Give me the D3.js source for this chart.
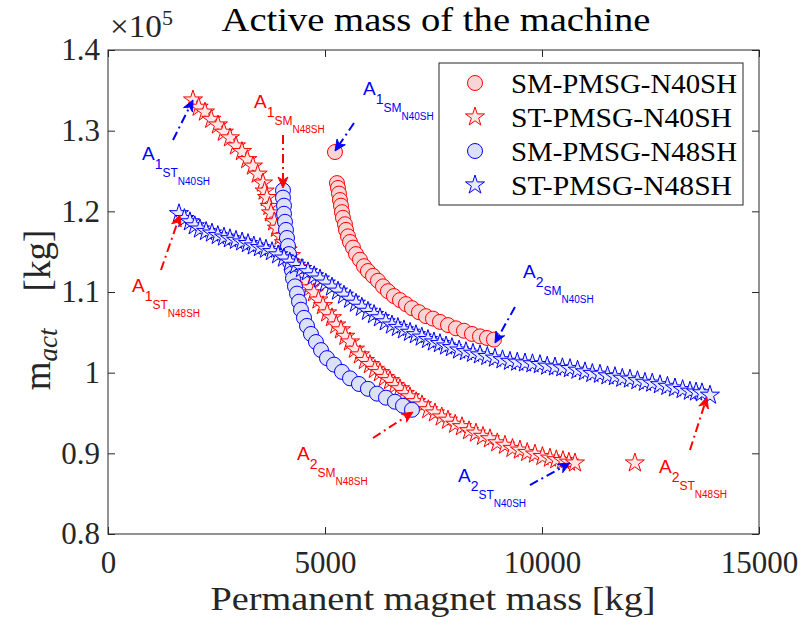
<!DOCTYPE html>
<html><head><meta charset="utf-8">
<script src="https://cdn.jsdelivr.net/npm/d3@7"></script>
<style>body{margin:0;background:#fff}svg{display:block}</style>
</head><body><svg id="c" width="802" height="629"></svg>
<script>
// ---------------- data (PM mass [kg], active mass [kg]) ----------------
const seriesNames = ["SM-PMSG-N40SH", "ST-PMSG-N40SH", "SM-PMSG-N48SH", "ST-PMSG-N48SH"];

const smN40_pm  = [5230,5276,5299,5322,5345,5368,5391,5414,5460,5484,5530,5576,5645,5714,5806,5898,5990,6106,6221,6336,6451,6589,6728,6866,7004,7165,7327,7488,7649,7834,8018,8202,8387,8571,8732,8893];
const smN40_act = [127350,123500,122900,122200,121400,120700,119900,119200,118400,117700,116900,116200,115500,114700,114000,113200,112600,112000,111400,110700,110100,109500,109000,108500,108000,107500,107000,106700,106300,105900,105500,105200,104800,104500,104300,104100];

const stN40_pm  = [1958,2090,2235,2380,2534,2670,2811,2950,3087,3210,3341,3450,3571,3610,3663,3720,3756,3830,3894,3980,4055,4140,4216,4290,4378,4470,4562,4650,4746,4850,4954,5050,5161,5260,5368,5470,5576,5690,5806,5920,6036,6150,6267,6380,6497,6610,6728,6840,6958,7100,7235,7380,7534,7690,7834,8000,8156,8320,8479,8640,8801,8970,9147,9320,9492,9660,9838,10010,10184,10330,10483,10620,10760,12140];
const stN40_act = [133800,132900,132300,131400,130700,129800,129100,128100,127400,126400,125600,124600,123500,122500,121700,120600,119800,118700,117900,116900,116100,115200,114500,113600,113000,112100,111400,110500,109900,109000,108300,107400,106800,105900,105300,104500,103800,102900,102200,101500,101000,100400,100000,99400,99000,98400,98000,97400,97000,96400,96000,95400,95000,94500,94100,93600,93300,92800,92500,92100,91800,91300,91000,90600,90400,90100,89900,89600,89400,89200,89100,88900,88800,88800];

const smN48_pm  = [4032,4032,4055,4055,4078,4101,4124,4147,4170,4193,4239,4262,4308,4355,4401,4447,4516,4585,4677,4792,4908,5046,5207,5391,5576,5783,5990,6198,6405,6612,6797,7004];
const smN48_act = [122600,121700,120700,119700,118700,117700,116700,115700,114700,113700,112700,111700,110700,109800,108800,107800,106800,105800,104800,103800,102800,101800,101000,100100,99300,98600,98000,97400,96900,96400,95900,95400];

const stN48_pm  = [1636,1760,1889,2000,2120,2260,2396,2530,2673,2810,2949,3090,3226,3360,3502,3640,3779,3920,4055,4190,4332,4470,4608,4750,4885,5020,5161,5300,5437,5580,5714,5850,5990,6130,6267,6400,6543,6680,6820,6960,7096,7230,7373,7510,7649,7790,7926,8090,8248,8410,8571,8740,8916,9090,9262,9430,9608,9780,9953,10120,10299,10470,10645,10820,10990,11160,11336,11510,11681,11850,12027,12200,12372,12540,12718,12890,13064,13240,13409,13550,13686,13870];
const stN48_act = [119700,119100,118700,118200,117800,117500,117300,117000,116800,116600,116400,116200,116000,115700,115500,115300,115000,114600,114200,113700,113300,112900,112500,112000,111600,111100,110600,110100,109600,109100,108600,108100,107600,107200,106800,106300,105900,105600,105300,105000,104700,104400,104100,103800,103600,103300,103100,102800,102600,102400,102200,102000,101800,101600,101400,101300,101200,101100,101000,100800,100700,100600,100500,100300,100100,99900,99800,99600,99500,99300,99200,99000,98800,98700,98500,98300,98100,97900,97700,97600,97500,97200];

const xTicks = [0, 5000, 10000, 15000];
const yTicks = [80000, 90000, 100000, 110000, 120000, 130000, 140000];

// annotations: label A_{idx_{sub_{grade}}}, text anchor, arrow start, arrow tip (data units)
const annIdx   = ["1","1","1","1","2","2","2","2"];
const annSub   = ["SM","SM","ST","ST","SM","SM","ST","ST"];
const annGrade = ["N40SH","N48SH","N40SH","N48SH","N40SH","N48SH","N40SH","N48SH"];
const annTextX = [5875,3364,783,553,9562,4355,8064,12695];
const annTextY = [134420,132810,126360,110000,111740,89170,86450,87560];
const annFromX = [5668,4032,1498,1221,9377,6106,9723,13409];
const annFromY = [130950,129460,128840,112730,108140,91900,86070,90410];
const annTipX  = [5230,4032,1958,1659,8916,7027,10644,13801];
const annTipY  = [127480,122890,133800,119550,103680,95120,88800,96980];

// ---------------- drawing ----------------
const svg = d3.select("#c");
const L = 108, R = 759, T = 50, B = 534;
const x = d3.scaleLinear().domain([0, 15000]).range([L, R]);
const y = d3.scaleLinear().domain([80000, 140000]).range([B, T]);
const axisColor = "#262626";
const serif = "'Liberation Serif','Times New Roman',serif";
const sans = "'Liberation Sans',Arial,Helvetica,sans-serif";

function starPath(Rad) {
  const r = Rad * 0.38; let p = "";
  for (let i = 0; i < 10; i++) {
    const a = -Math.PI / 2 + i * Math.PI / 5, rr = i % 2 ? r : Rad;
    p += (i ? "L" : "M") + (rr * Math.cos(a)).toFixed(2) + "," + (rr * Math.sin(a)).toFixed(2);
  }
  return p + "Z";
}
const styles = [
  {shape: "circle", stroke: "#ff0000", fill: "#f9d4d4"},
  {shape: "star",   stroke: "#ff0000", fill: "#fce6e6"},
  {shape: "circle", stroke: "#0000ff", fill: "#dde1f7"},
  {shape: "star",   stroke: "#0000ff", fill: "#e6eafb"}
];
const CR = 7.5, SR = 10;
function drawMarker(g, shape, cx, cy, st) {
  if (shape === "circle") {
    g.append("circle").attr("cx", cx).attr("cy", cy).attr("r", CR)
      .attr("fill", st.fill).attr("stroke", st.stroke).attr("stroke-width", 1);
  } else {
    g.append("path").attr("d", starPath(SR)).attr("transform", `translate(${cx},${cy})`)
      .attr("fill", st.fill).attr("stroke", st.stroke).attr("stroke-width", 1).attr("stroke-linejoin", "miter");
  }
}

// axes (ticks inward on all four sides)
const fmtY = d => String(+(d / 1e5).toFixed(1));
const gx = svg.append("g").attr("transform", `translate(0,${B})`)
  .call(d3.axisBottom(x).tickValues(xTicks).tickSizeInner(-7).tickSizeOuter(0).tickPadding(17).tickFormat(d3.format("d")));
const gy = svg.append("g").attr("transform", `translate(${L},0)`)
  .call(d3.axisLeft(y).tickValues(yTicks).tickSizeInner(-7).tickSizeOuter(0).tickPadding(8).tickFormat(fmtY));
const gxt = svg.append("g").attr("transform", `translate(0,${T})`)
  .call(d3.axisTop(x).tickValues(xTicks).tickSizeInner(-7).tickSizeOuter(0).tickFormat(""));
const gyr = svg.append("g").attr("transform", `translate(${R},0)`)
  .call(d3.axisRight(y).tickValues(yTicks).tickSizeInner(-7).tickSizeOuter(0).tickFormat(""));
[gx, gy, gxt, gyr].forEach(g => {
  g.selectAll("path.domain").remove();
  g.selectAll("line").attr("stroke", axisColor).attr("stroke-width", 1);
  g.selectAll("text").attr("fill", axisColor).style("font-family", serif).style("font-size", "31px");
});
svg.append("rect").attr("x", L).attr("y", T).attr("width", R - L).attr("height", B - T)
  .attr("fill", "none").attr("stroke", axisColor).attr("stroke-width", 1);

// series
const series = [[smN40_pm, smN40_act], [stN40_pm, stN40_act], [smN48_pm, smN48_act], [stN48_pm, stN48_act]];
const plot = svg.append("g");
series.forEach((s, k) => {
  const g = plot.append("g");
  s[0].forEach((v, i) => drawMarker(g, styles[k].shape, x(v), y(s[1][i]), styles[k]));
});

// annotations
const annColors = ["#0000ff","#ff0000","#0000ff","#ff0000","#0000ff","#ff0000","#0000ff","#ff0000"];
const ann = svg.append("g");
annIdx.forEach((idx, i) => {
  const c = annColors[i];
  const x1 = x(annFromX[i]), y1 = y(annFromY[i]), x2 = x(annTipX[i]), y2 = y(annTipY[i]);
  const ang = Math.atan2(y2 - y1, x2 - x1), HL = 11, HW = 5;
  const bx = x2 - (HL * 0.75) * Math.cos(ang), by = y2 - (HL * 0.75) * Math.sin(ang);
  ann.append("line").attr("x1", x1).attr("y1", y1).attr("x2", bx).attr("y2", by)
    .attr("stroke", c).attr("stroke-width", 2).attr("stroke-dasharray", "9,4,2,4");
  const pts = [[0, 0], [-HL, HW], [-HL * 0.7, 0], [-HL, -HW]].map(([px, py]) =>
    [x2 + px * Math.cos(ang) - py * Math.sin(ang), y2 + px * Math.sin(ang) + py * Math.cos(ang)]);
  ann.append("path").attr("d", "M" + pts.map(p => p.join(",")).join("L") + "Z").attr("fill", c).attr("stroke", c).attr("stroke-width", 1);
  const t = ann.append("text").attr("x", x(annTextX[i])).attr("y", y(annTextY[i]))
    .attr("fill", c).style("font-family", sans);
  t.append("tspan").style("font-size", "19px").text("A");
  t.append("tspan").style("font-size", "14px").attr("dy", 9).text(idx);
  t.append("tspan").style("font-size", "12px").attr("dy", 8).text(annSub[i]);
  t.append("tspan").style("font-size", "10px").attr("dy", 8).text(annGrade[i]);
});

// legend
const lg = svg.append("g");
lg.append("rect").attr("x", 439).attr("y", 63).attr("width", 304).attr("height", 142)
  .attr("fill", "#fff").attr("stroke", axisColor).attr("stroke-width", 1);
const legLen = [226, 221, 226, 221];
seriesNames.forEach((n, k) => {
  const cy = 83 + k * 34;
  drawMarker(lg, styles[k].shape, 475, cy, styles[k]);
  lg.append("text").attr("x", 511).attr("y", cy + 10).attr("fill", "#000")
    .attr("textLength", legLen[k]).attr("lengthAdjust", "spacingAndGlyphs")
    .style("font-family", serif).style("font-size", "27px").text(n);
});

// title, labels, exponent
svg.append("text").attr("x", 436).attr("y", 31).attr("text-anchor", "middle")
  .attr("textLength", 429).attr("lengthAdjust", "spacingAndGlyphs")
  .style("font-family", serif).style("font-size", "33px").attr("fill", "#000").text("Active mass of the machine");
svg.append("text").attr("x", 433).attr("y", 610).attr("text-anchor", "middle")
  .attr("textLength", 445).attr("lengthAdjust", "spacingAndGlyphs")
  .style("font-family", serif).style("font-size", "33px").attr("fill", axisColor).text("Permanent magnet mass [kg]");
const yl = svg.append("text").attr("transform", "translate(50,310) rotate(-90)").attr("text-anchor", "middle")
  .style("font-family", serif).style("font-size", "37px").attr("fill", axisColor);
yl.append("tspan").text("m");
yl.append("tspan").style("font-size", "27px").style("font-style", "italic").attr("dy", 7).text("act");
yl.append("tspan").attr("dy", -7).text("\u2003[kg]");
const ex = svg.append("text").attr("x", 110).attr("y", 37).style("font-family", serif)
  .style("font-size", "31px").attr("fill", axisColor);
ex.append("tspan").attr("textLength", 52).attr("lengthAdjust", "spacingAndGlyphs").text("\u00d710");
ex.append("tspan").style("font-size", "22px").attr("dy", -12).text("5");
</script></body></html>
